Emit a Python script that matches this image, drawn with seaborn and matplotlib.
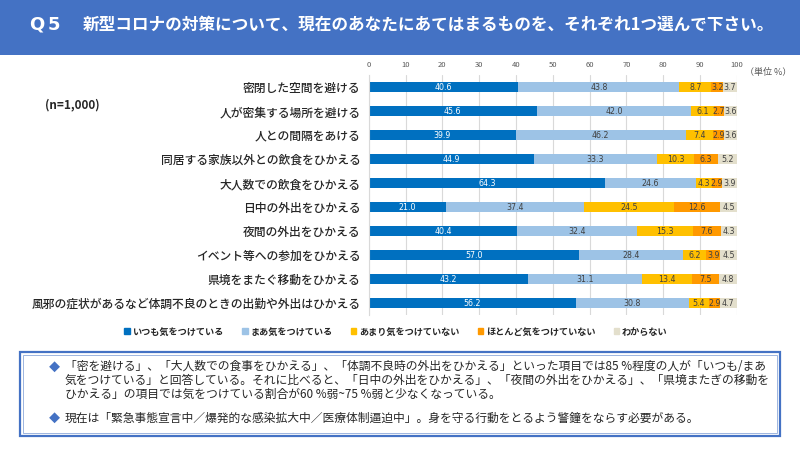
import numpy as np
import pandas as pd
import matplotlib
matplotlib.use('Agg')
import matplotlib.pyplot as plt
from matplotlib.patches import Rectangle
import seaborn as sns

items = ['密閉した空間を避ける', '人が密集する場所を避ける', '人との間隔をあける',
         '同居する家族以外との飲食をひかえる', '大人数での飲食をひかえる', '日中の外出をひかえる',
         '夜間の外出をひかえる', 'イベント等への参加をひかえる', '県境をまたぐ移動をひかえる',
         '風邪の症状があるなど体調不良のときの出勤や外出はひかえる']
answers = ['いつも気をつけている', 'まあ気をつけている', 'あまり気をつけていない',
           'ほとんど気をつけていない', 'わからない']
itsumo = [40.6, 45.6, 39.9, 44.9, 64.3, 21.0, 40.4, 57.0, 43.2, 56.2]
maa = [43.8, 42.0, 46.2, 33.3, 24.6, 37.4, 32.4, 28.4, 31.1, 30.8]
amari = [8.7, 6.1, 7.4, 10.3, 4.3, 24.5, 15.3, 6.2, 13.4, 5.4]
hotondo = [3.2, 2.7, 2.9, 6.3, 2.9, 12.6, 7.6, 3.9, 7.5, 2.9]
wakaranai = [3.7, 3.6, 3.6, 5.2, 3.9, 4.5, 4.3, 4.5, 4.8, 4.7]
colors = ['#0070C0', '#9DC3E6', '#FFC000', '#FF9900', '#E3DFCC']

sns.set_style('white')
plt.rcParams['font.family'] = ['Noto Sans CJK JP', 'DejaVu Sans']

df = pd.DataFrame({'item': items, answers[0]: itsumo, answers[1]: maa, answers[2]: amari,
                   answers[3]: hotondo, answers[4]: wakaranai})
cum = df[answers].cumsum(axis=1)

fig = plt.figure(figsize=(8, 4.5), dpi=100)
fig.patch.set_facecolor('white')
ax = fig.add_axes([0.461, 0.3, 0.46, 0.5333])

# stacked bars: draw cumulative totals from the last segment back to the first
for i in range(len(answers) - 1, -1, -1):
    sns.barplot(x=cum[answers[i]], y=df['item'], orient='h', color=colors[i],
                width=0.42, ax=ax, saturation=1, linewidth=0)

for i, a in enumerate(answers):
    starts = cum[a] - df[a]
    for j in range(len(items)):
        v = df[a][j]
        ax.text(starts[j] + v / 2, j, f'{v:.1f}', ha='center', va='center', fontsize=5.7,
                color='white' if i == 0 else '#404040', family='DejaVu Sans')

ax.set_xlim(0, 100)
ax.set_ylim(9.5, -0.5)
ax.set_xticks(range(0, 101, 10))
ax.xaxis.tick_top()
ax.tick_params(axis='x', length=0, labelsize=5.5, labelcolor='#595959', pad=4)
ax.tick_params(axis='y', length=0, labelsize=8.5, pad=6)
ax.set_xlabel('')
ax.set_ylabel('')
ax.grid(axis='x', color='#D9D9D9', linewidth=0.8)
ax.set_axisbelow(True)
for s in ['top', 'right', 'bottom']:
    ax.spines[s].set_visible(False)
ax.spines['left'].set_color('#D9D9D9')
for lbl in ax.get_yticklabels():
    lbl.set_fontweight('medium')

# title band
fig.patches.append(Rectangle((0, 1 - 55 / 450), 1, 55 / 450, transform=fig.transFigure,
                             facecolor='#4472C4', edgecolor='none', zorder=0))
fig.text(29 / 800, 1 - 25 / 450, 'Q', color='white', fontsize=13, fontweight='bold',
         family='DejaVu Sans', va='center', ha='left')
fig.text(48 / 800, 1 - 25 / 450, '5', color='white', fontsize=13, fontweight='bold',
         family='DejaVu Sans', va='center', ha='left')
fig.text(83 / 800, 1 - 25 / 450, '新型コロナの対策について、現在のあなたにあてはまるものを、それぞれ1つ選んで下さい。',
         color='white', fontsize=12, fontweight='bold', va='center', ha='left')

fig.text(745 / 800, 1 - 72 / 450, '（単位 %）', fontsize=6.5, color='#595959', va='center', ha='left')
fig.text(45 / 800, 1 - 105 / 450, '(n=1,000)', fontsize=8.5, fontweight='bold', va='center', ha='left')

handles = [Rectangle((0, 0), 1, 1, color=c) for c in colors]
fig.legend(handles, answers, loc='center left', bbox_to_anchor=(116 / 800, 1 - 332 / 450), ncol=5,
           frameon=False, handlelength=0.6, handleheight=0.6,
           columnspacing=2.0, handletextpad=0.3, prop={'weight': 'bold', 'size': 6.6})

# comment box
fig.patches.append(Rectangle((20 / 800, 1 - 436 / 450), 760 / 800, 84 / 450, transform=fig.transFigure,
                             facecolor='white', edgecolor='#4472C4', linewidth=1.6))
fig.patches.append(Rectangle((23 / 800, 1 - 433 / 450), 754 / 800, 78 / 450, transform=fig.transFigure,
                             facecolor='none', edgecolor='#8EA9DB', linewidth=0.6))
lines = ['「密を避ける」、「大人数での食事をひかえる」、「体調不良時の外出をひかえる」といった項目では85 %程度の人が「いつも/まあ',
         '気をつけている」と回答している。それに比べると、「日中の外出をひかえる」、「夜間の外出をひかえる」、「県境またぎの移動を',
         'ひかえる」の項目では気をつけている割合が60 %弱~75 %弱と少なくなっている。']
ys = [367, 380.5, 394]
fig.text(49 / 800, 1 - ys[0] / 450, '◆', color='#4472C4', fontsize=8, va='center', ha='left')
for t, y in zip(lines, ys):
    fig.text(65 / 800, 1 - y / 450, t, fontsize=8.5, va='center', ha='left')
fig.text(49 / 800, 1 - 418 / 450, '◆', color='#4472C4', fontsize=8, va='center', ha='left')
fig.text(65 / 800, 1 - 418 / 450, '現在は「緊急事態宣言中／爆発的な感染拡大中／医療体制逼迫中」。身を守る行動をとるよう警鐘をならす必要がある。',
         fontsize=8.5, va='center', ha='left')

fig.savefig('out.png', dpi=100)
